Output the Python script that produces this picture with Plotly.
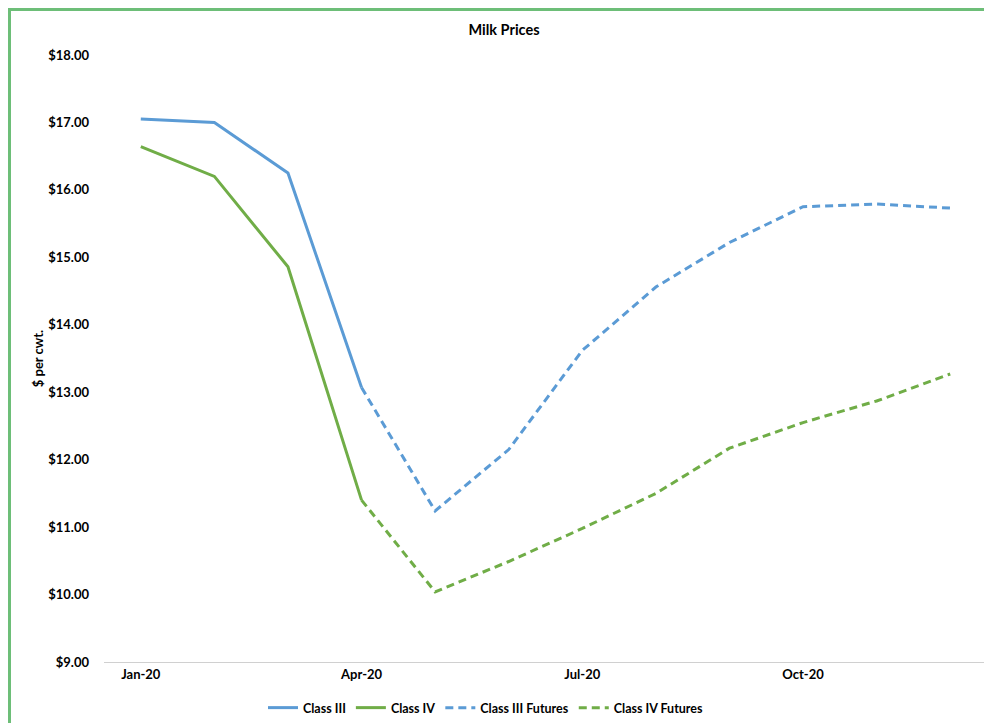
import plotly.graph_objects as go

months = ["Jan-20", "Feb-20", "Mar-20", "Apr-20", "May-20", "Jun-20",
          "Jul-20", "Aug-20", "Sep-20", "Oct-20", "Nov-20", "Dec-20"]
class3 = [17.05, 17.00, 16.25, 13.07, None, None, None, None, None, None, None, None]
class4 = [16.64, 16.20, 14.86, 11.40, None, None, None, None, None, None, None, None]
class3_fut = [None, None, None, 13.07, 11.24, 12.15, 13.62, 14.56, 15.22, 15.75, 15.79, 15.73]
class4_fut = [None, None, None, 11.40, 10.04, 10.49, 10.98, 11.50, 12.17, 12.55, 12.87, 13.27]
tick_months = ["Jan-20", "Apr-20", "Jul-20", "Oct-20"]
y_ticks = [9, 10, 11, 12, 13, 14, 15, 16, 17, 18]

BLUE = "#5B9BD5"
GREEN = "#70AD47"
FONT = "Lato"

W, H = 984, 715
L, R, T, B = 96, 5, 47, 61
PW, PH = W - L - R, H - T - B

fig = go.Figure()
fig.add_trace(go.Scatter(x=months, y=class3, name="Class III", mode="lines",
                         line=dict(color=BLUE, width=3)))
fig.add_trace(go.Scatter(x=months, y=class4, name="Class IV", mode="lines",
                         line=dict(color=GREEN, width=3)))
fig.add_trace(go.Scatter(x=months, y=class3_fut, name="Class III Futures", mode="lines",
                         line=dict(color=BLUE, width=3, dash="8px,5px")))
fig.add_trace(go.Scatter(x=months, y=class4_fut, name="Class IV Futures", mode="lines",
                         line=dict(color=GREEN, width=3, dash="8px,5px")))

fig.update_layout(
    width=W, height=H,
    margin=dict(l=L, r=R, t=T, b=B),
    paper_bgcolor="white", plot_bgcolor="white",
    font=dict(family=FONT, size=13, color="#000000"),
    title=dict(text="<b>Milk Prices</b>", x=(504 - 8) / W, xref="container", xanchor="center",
               y=1 - 22 / H, yref="container", yanchor="middle",
               font=dict(family=FONT, size=14.5, color="#000000")),
    xaxis=dict(type="category", categoryorder="array", categoryarray=months,
               range=[-0.5, 11.5], tickmode="array", tickvals=tick_months,
               ticktext=["<b>%s</b>" % m for m in tick_months],
               showgrid=False, showline=True, linecolor="#d0d0d0", linewidth=1,
               ticks="", zeroline=False, tickfont=dict(family=FONT, size=13)),
    yaxis=dict(range=[9, 18], tickmode="array", tickvals=y_ticks,
               ticktext=["<b>$%.2f</b>" % v for v in y_ticks],
               showgrid=False, showline=False, zeroline=False, ticks="",
               ticklabelstandoff=14, tickfont=dict(family=FONT, size=13),
               title=dict(text="<b>$ per cwt.</b>", standoff=1,
                          font=dict(family=FONT, size=13))),
    legend=dict(orientation="h", x=(486 - 8) / W, xref="container", xanchor="center",
                y=1 - (708 - 8) / H, yref="container", yanchor="middle",
                font=dict(family=FONT, size=12.5), itemwidth=30,
                traceorder="normal"),
    showlegend=True,
)
fig.for_each_trace(lambda t: t.update(name="<b>%s</b>" % t.name))

bx = -(L - 1.5) / PW
by = 1 + (T - 1.5) / PH
border = dict(color="#6DBE78", width=3)
fig.add_shape(type="line", xref="paper", yref="paper", x0=bx, x1=bx, y0=-B / PH, y1=by + 1.5 / PH,
              line=border, layer="above")
fig.add_shape(type="line", xref="paper", yref="paper", x0=bx - 1.5 / PW, x1=1 + R / PW, y0=by, y1=by,
              line=border, layer="above")

fig.write_html("out.html")
